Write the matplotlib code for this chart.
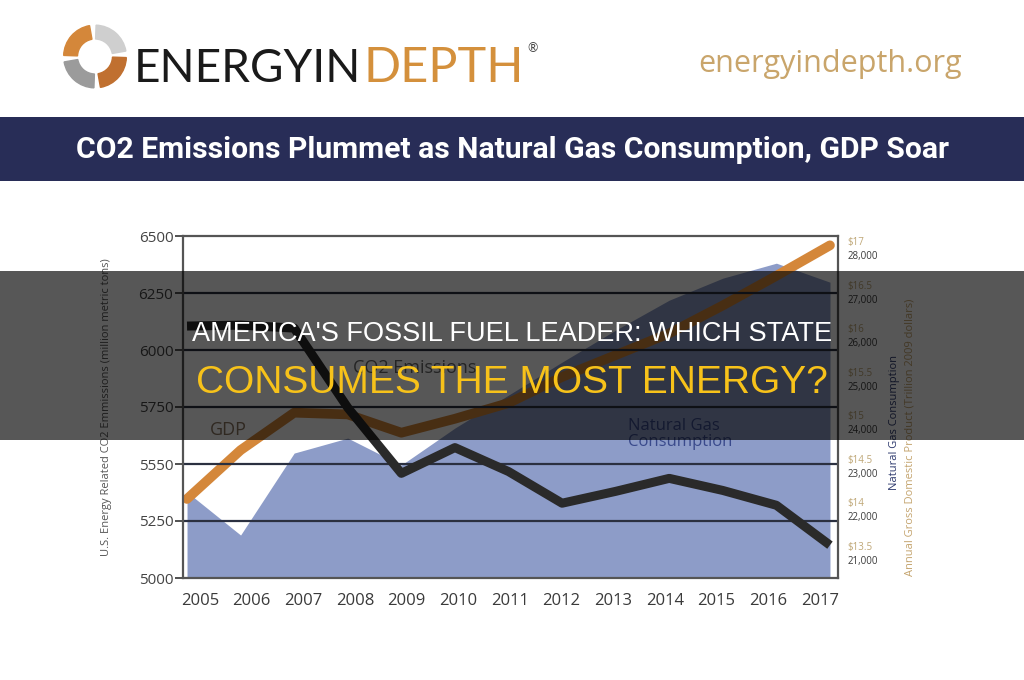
import numpy as np
import matplotlib.pyplot as plt
from matplotlib.patches import Rectangle, Wedge

# values
years = ['2005', '2006', '2007', '2008', '2009', '2010', '2011',
         '2012', '2013', '2014', '2015', '2016', '2017']
co2 = [6105, 6109, 6096, 5747, 5459, 5572, 5467, 5328, 5380, 5437, 5384, 5319, 5144]
gas = [22560, 21573, 23454, 23798, 23179, 24028, 24784, 25541, 26275, 26963, 27468, 27812, 27376]
gdp = [14.04, 14.60, 15.03, 15.01, 14.80, 14.96, 15.14, 15.44, 15.69, 15.94, 16.26, 16.60, 16.95]

co2_ticks = [5000, 5250, 5500, 5750, 6000, 6250, 6500]
co2_labels = ['5000', '5250', '5550', '5750', '6000', '6250', '6500']
gas_ticks = [21000, 22000, 23000, 24000, 25000, 26000, 27000, 28000]
gas_labels = ['21,000', '22,000', '23,000', '24,000', '25,000', '26,000', '27,000', '28,000']
gdp_ticks = [13.5, 14, 14.5, 15, 15.5, 16, 16.5, 17]
gdp_labels = ['$13.5', '$14', '$14.5', '$15', '$15.5', '$16', '$16.5', '$17']

W, H = 1024, 680
def fy(y):
    return 1 - y / H

fig = plt.figure(figsize=(10.24, 6.8), dpi=100)
fig.patch.set_facecolor('white')
r = fig.canvas.get_renderer()

# --- header logo ---
ax_logo = fig.add_axes([62 / W, fy(90), 66 / W, 67 / H])
ax_logo.set_xlim(-1, 1)
ax_logo.set_ylim(-1, 1)
ax_logo.set_aspect('equal')
ax_logo.axis('off')
for th, col in [(100, '#d4873a'), (190, '#9b9b9b'), (280, '#c07030'), (10, '#cfcfcf')]:
    ax_logo.add_patch(Wedge((0, 0), 0.95, th, th + 78, width=0.42, color=col))

t1 = fig.text(134 / W, fy(82), 'ENERGYIN', fontsize=33, family='Lato',
              color='#1a1a1a', va='baseline')
bb = t1.get_window_extent(renderer=r)
t2 = fig.text(bb.x1 / W + 0.002, fy(82), 'DEPTH', fontsize=35, family='Lato',
              color='#d4903c', va='baseline')
bb2 = t2.get_window_extent(renderer=r)
fig.text(bb2.x1 / W + 0.003, fy(48), '®', fontsize=9, family='Lato', color='#444444', va='center')
fig.text(698 / W, fy(64), 'energyindepth.org', fontsize=22, family='Open Sans',
         color='#c9a56b', va='center')

# --- title banner ---
fig.patches.append(Rectangle((0, fy(181)), 1, 64 / H, transform=fig.transFigure,
                             facecolor='#282d57', edgecolor='none', zorder=1))
banner = fig.text(0.5, fy(150), 'CO2 Emissions Plummet as Natural Gas Consumption, GDP Soar',
                  ha='center', va='center', color='white', fontsize=20, fontweight='bold',
                  family='Roboto', zorder=2)
bw = banner.get_window_extent(renderer=r).width
banner.set_fontsize(20 * 873 / bw)

# --- chart ---
x = np.arange(len(years))
ax = fig.add_axes([183 / W, fy(578), 655 / W, 342 / H])
ax_gas = ax.twinx()
ax_gdp = ax.twinx()
ax_gas.set_zorder(1)
ax_gdp.set_zorder(2)
ax.set_zorder(3)
ax.patch.set_visible(False)

gas_lo, gas_hi = 20587, 28436
ax_gas.fill_between(x, gas, gas_lo, color='#8d9cc8', linewidth=0)
ax_gas.set_ylim(gas_lo, gas_hi)
ax_gas.set_yticks(gas_ticks, gas_labels)
ax_gas.tick_params(axis='y', length=0, pad=7, labelsize=7, labelcolor='#3a3a3a')
for lab in ax_gas.get_yticklabels():
    lab.set_family('Open Sans')

ax_gdp.plot(x, gdp, color='#d4873a', linewidth=7, solid_capstyle='round', solid_joinstyle='round')
ax_gdp.set_ylim(13.133, 17.057)
ax_gdp.set_yticks(gdp_ticks, gdp_labels)
ax_gdp.tick_params(axis='y', length=0, pad=7, labelsize=7, labelcolor='#bfa777')
for lab in ax_gdp.get_yticklabels():
    lab.set_family('Open Sans')

for a in (ax_gas, ax_gdp):
    a.set_xlim(-0.075, 12.15)
    for s in a.spines.values():
        s.set_visible(False)

for yv in co2_ticks[1:-1]:
    ax.axhline(yv, color='#2b3040', linewidth=1.6, zorder=1)
ax.plot(x, co2, color='#2a2a2a', linewidth=6.5, solid_capstyle='butt', zorder=2)
ax.set_xlim(-0.075, 12.15)
ax.set_ylim(5000, 6500)
ax.set_yticks(co2_ticks, co2_labels)
ax.set_xticks(np.linspace(0.243, 11.81, len(years)), years)
ax.tick_params(axis='x', length=0, pad=11, labelsize=12, labelcolor='#3a3a3a')
ax.tick_params(axis='y', length=6, width=1.2, color='#333333', pad=1,
               labelsize=11, labelcolor='#444444')
for lab in ax.get_xticklabels() + ax.get_yticklabels():
    lab.set_family('Open Sans')
for s in ax.spines.values():
    s.set_color('#555555')
    s.set_linewidth(1.6)

ax.set_ylabel('U.S. Energy Related CO2 Emmissions (million metric tons)',
              fontsize=8, color='#555555', family='Open Sans')
ax.yaxis.set_label_coords((112 - 183) / 655, 0.5)

ax.text((210 - 183) / 655, (578 - 430) / 342, 'GDP', transform=ax.transAxes,
        fontsize=13, color='#8a7560', family='Open Sans', va='center', zorder=5)
ax.text((353 - 183) / 655, (578 - 368) / 342, 'CO2 Emissions', transform=ax.transAxes,
        fontsize=13, color='#6a6a6a', family='Open Sans', va='center', zorder=5)
ax.text((628 - 183) / 655, (578 - 434) / 342, 'Natural Gas\nConsumption', transform=ax.transAxes,
        fontsize=12, color='#3a4a8c', family='Open Sans', va='center',
        linespacing=0.95, zorder=5)

fig.text(895 / W, fy(423), 'Natural Gas Consumption', rotation=90, ha='center', va='center',
         fontsize=8, color='#2e3a6e', family='Open Sans')
fig.text(910 / W, fy(437), 'Annual Gross Domestic Product (Trillion 2009 dollars)', rotation=90,
         ha='center', va='center', fontsize=8, color='#c4a46e', family='Open Sans')

# --- dark overlay with headline ---
fig.patches.append(Rectangle((0, fy(440)), 1, 169 / H, transform=fig.transFigure,
                             facecolor='black', alpha=0.66, edgecolor='none', zorder=50))
fig.text(0.5, fy(334), "AMERICA'S FOSSIL FUEL LEADER: WHICH STATE", ha='center', va='center',
         color='white', fontsize=19.5, family='Liberation Sans', zorder=60)
fig.text(0.5, fy(383), 'CONSUMES THE MOST ENERGY?', ha='center', va='center',
         color='#f7c21a', fontsize=28, family='Liberation Sans', zorder=60)

fig.savefig('out.png', dpi=100, facecolor='white')
